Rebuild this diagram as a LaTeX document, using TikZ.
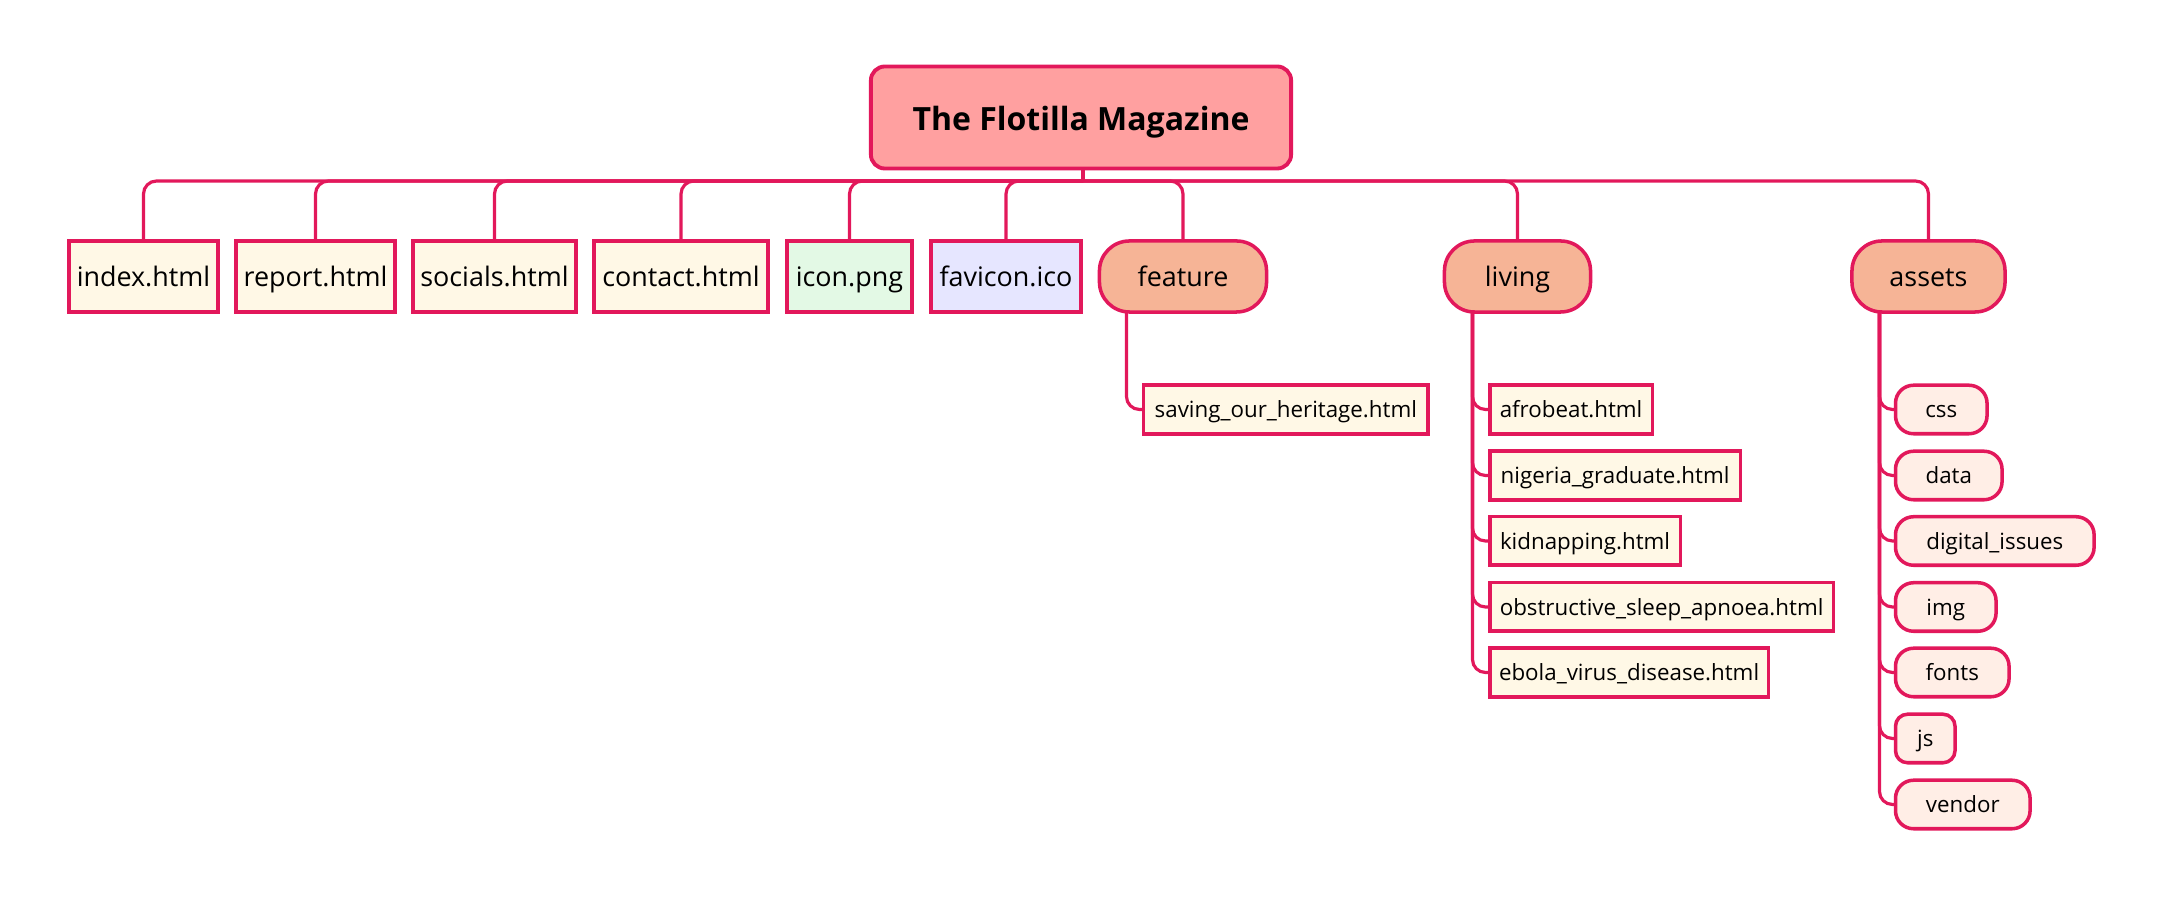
\documentclass[tikz,border=0pt]{standalone}
\usepackage{fontspec}
\setmainfont{Open Sans}
\usepackage{tikz}
\usetikzlibrary{backgrounds}
\definecolor{linkred}{HTML}{E2185B}
\tikzset{link/.style={draw=linkred, line width=0.9pt, rounded corners=0.13cm}}
\tikzset{boxbase/.style={draw=linkred, line width=1pt, text=black, inner xsep=0pt, inner ysep=0pt, outer sep=0pt}}
\tikzset{rootbox/.style={boxbase, fill=rootpink, rounded corners=0.14cm, line width=1.1pt, minimum height=1.02cm, font=\fontsize{9.1}{11}\selectfont\bfseries, text height=0.34cm, text depth=0.08cm}}
\tikzset{topbox/.style={boxbase, minimum height=0.71cm, font=\fontsize{7.65}{9}\selectfont, text height=0.3cm, text depth=0.1cm}}
\tikzset{subbox/.style={boxbase, minimum height=0.485cm, font=\fontsize{6.35}{8}\selectfont, text height=0.26cm, text depth=0.09cm}}
\tikzset{pagetop/.style={topbox, fill=pagecream}}
\tikzset{foldertop/.style={topbox, fill=foldersalmon, rounded corners=0.3cm}}
\tikzset{pagesub/.style={subbox, fill=pagecream, anchor=west}}
\tikzset{foldersub/.style={subbox, fill=folderpale, rounded corners=0.18cm, anchor=west}}
\definecolor{rootpink}{HTML}{FFA0A0}
\definecolor{pagecream}{HTML}{FFF8E6}
\definecolor{imagegreen}{HTML}{E3F9E5}
\definecolor{iconlilac}{HTML}{E6E6FF}
\definecolor{foldersalmon}{HTML}{F6B496}
\definecolor{folderpale}{HTML}{FFEEE6}
\begin{document}
\begin{tikzpicture}[x=0.01cm, y=-0.01cm]
    \useasboundingbox (0,0) rectangle (2162,898);
    \node[rootbox, minimum width=4.2cm] (root) at (1081, 117.5) {The Flotilla Magazine};

    \node[pagetop, minimum width=1.485cm] (index) at (143.5, 276.5) {index.html};
    \node[pagetop, minimum width=1.585cm] (report) at (315.5, 276.5) {report.html};
    \node[pagetop, minimum width=1.625cm] (socials) at (494.5, 276.5) {socials.html};
    \node[pagetop, minimum width=1.74cm] (contact) at (681, 276.5) {contact.html};
    \node[topbox, fill=imagegreen, minimum width=1.245cm] (icon) at (849.5, 276.5) {icon.png};
    \node[topbox, fill=iconlilac, minimum width=1.495cm] (favicon) at (1006, 276.5) {favicon.ico};
    \node[foldertop, minimum width=1.67cm] (feature) at (1183, 276.5) {feature};
    \node[foldertop, minimum width=1.46cm] (living) at (1517.5, 276.5) {living};
    \node[foldertop, minimum width=1.53cm] (assets) at (1928.5, 276.5) {assets};

    \node[pagesub, minimum width=2.845cm] (saving) at (1143.5, 409.5) {saving\_our\_heritage.html};

    \node[pagesub, minimum width=1.625cm] (afrobeat) at (1489.75, 409.5) {afrobeat.html};
    \node[pagesub, minimum width=2.505cm] (nigeria) at (1489.75, 475.5) {nigeria\_graduate.html};
    \node[pagesub, minimum width=1.905cm] (kidnapping) at (1489.75, 541) {kidnapping.html};
    \node[pagesub, minimum width=3.435cm] (sleep) at (1489.75, 607) {obstructive\_sleep\_apnoea.html};
    \node[pagesub, minimum width=2.785cm] (ebola) at (1489.75, 672.5) {ebola\_virus\_disease.html};

    \node[foldersub, minimum width=0.915cm] (css) at (1895.5, 409.5) {css};
    \node[foldersub, minimum width=1.065cm] (data) at (1895.5, 475.5) {data};
    \node[foldersub, minimum width=1.985cm] (issues) at (1895.5, 541) {digital\_issues};
    \node[foldersub, minimum width=1.005cm] (img) at (1895.5, 607) {img};
    \node[foldersub, minimum width=1.135cm] (fonts) at (1895.5, 672.5) {fonts};
    \node[foldersub, rounded corners=0.12cm, minimum width=0.595cm] (js) at (1895.5, 738.5) {js};
    \node[foldersub, minimum width=1.345cm] (vendor) at (1895.5, 804.5) {vendor};

    \coordinate (hub) at (1083, 181);
    \draw[link] (root.south -| hub) -- (hub);
    \foreach \n in {index,report,socials,contact,icon,favicon,feature,living,assets}
        \draw[link] (hub) -| (\n.north);

    \draw[link] ([xshift=0.27cm]feature.south west) |- (saving.west);
    \foreach \n in {afrobeat,nigeria,kidnapping,sleep,ebola}
        \draw[link] ([xshift=0.28cm]living.south west) |- (\n.west);
    \foreach \n in {css,data,issues,img,fonts,js,vendor}
        \draw[link] ([xshift=0.275cm]assets.south west) |- (\n.west);
\end{tikzpicture}
\end{document}
